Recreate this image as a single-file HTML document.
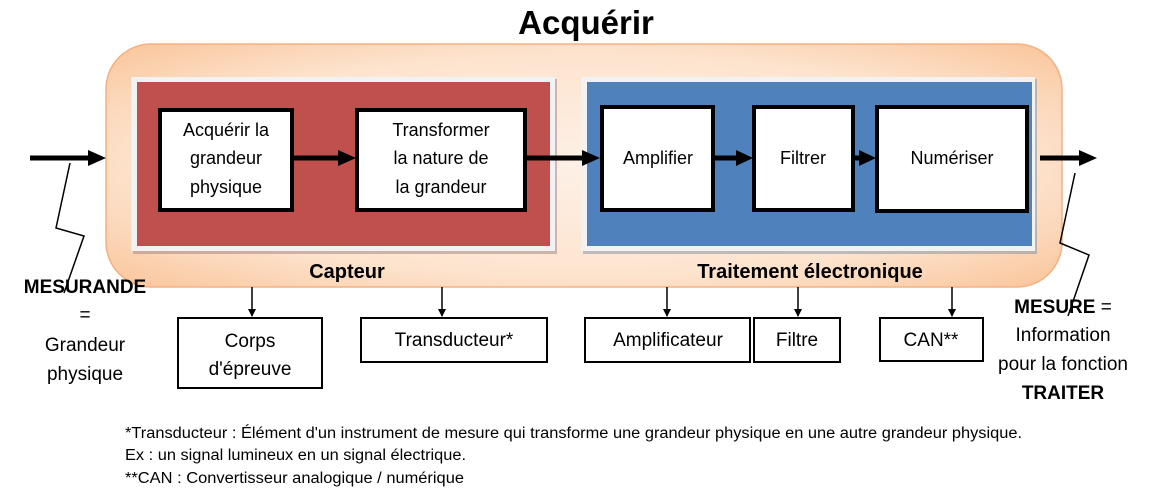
<!DOCTYPE html>
<html><head><meta charset="utf-8"><style>
html,body{margin:0;padding:0;background:#fff}
svg{display:block}
text{font-family:"Liberation Sans",sans-serif;fill:#000}
</style></head><body>
<svg width="1156" height="494" viewBox="0 0 1156 494" xmlns="http://www.w3.org/2000/svg">
<defs>
<radialGradient id="g" cx="50%" cy="50%" r="75%">
<stop offset="0" stop-color="#fdf0e6"/><stop offset="0.6" stop-color="#fde4cf"/><stop offset="1" stop-color="#f9bf90"/>
</radialGradient>
<marker id="ah" markerWidth="8" markerHeight="8" refX="7" refY="4" orient="auto" markerUnits="userSpaceOnUse"><path d="M0,0 L8,4 L0,8 z" fill="#000"/></marker>
</defs>
<text x="586" y="34" font-size="33" font-weight="bold" text-anchor="middle">Acquérir</text>
<rect x="106" y="44" width="956" height="243" rx="45" fill="url(#g)" stroke="#f4b183" stroke-width="1.5"/>
<rect x="133" y="79" width="424" height="175" fill="#a08080" opacity="0.5"/>
<rect x="131" y="77" width="424" height="174" fill="#f2f2f2"/>
<rect x="137" y="82" width="413" height="164" fill="#c0504d"/>
<rect x="583" y="79" width="454" height="175" fill="#8090a0" opacity="0.5"/>
<rect x="581" y="77" width="454" height="174" fill="#f2f2f2"/>
<rect x="587" y="82" width="445" height="164" fill="#4f81bd"/>
<g fill="#fff" stroke="#000" stroke-width="4">
<rect x="160" y="110" width="132" height="100"/>
<rect x="357" y="110" width="168" height="100"/>
<rect x="602" y="107" width="111" height="103"/>
<rect x="754" y="107" width="99" height="103"/>
<rect x="877" y="107" width="150" height="104"/>
</g>
<g font-size="18" text-anchor="middle">
<text x="226" y="136">Acquérir la</text><text x="226" y="164">grandeur</text><text x="226" y="193">physique</text>
<text x="441" y="136">Transformer</text><text x="441" y="164">la nature de</text><text x="441" y="193">la grandeur</text>
<text x="658" y="164">Amplifier</text><text x="803" y="164">Filtrer</text><text x="952" y="164">Numériser</text>
</g>
<g stroke="#000" stroke-width="5" fill="none">
<line x1="30" y1="158" x2="92" y2="158"/><path d="M88,150 L106,158 L88,166z" fill="#000" stroke="none"/>
<line x1="292" y1="158" x2="342" y2="158"/><path d="M338,150 L356,158 L338,166z" fill="#000" stroke="none"/>
<line x1="525" y1="158" x2="586" y2="158"/><path d="M582,150 L600,158 L582,166z" fill="#000" stroke="none"/>
<line x1="713" y1="158" x2="740" y2="158"/><path d="M736,150 L753,158 L736,166z" fill="#000" stroke="none"/>
<line x1="853" y1="158" x2="862" y2="158"/><path d="M859,150 L876,158 L859,166z" fill="#000" stroke="none"/>
<line x1="1040" y1="158" x2="1082" y2="158"/><path d="M1079,150 L1097,158 L1079,166z" fill="#000" stroke="none"/>
</g>
<g stroke="#000" stroke-width="1.5" fill="none">
<polyline points="70,163 56,228 84,236 64,293"/>
<polyline points="1075,173 1060,243 1089,255 1068,316"/>
</g>
<g font-size="20" font-weight="bold" text-anchor="middle">
<text x="347" y="278">Capteur</text>
<text x="810" y="278">Traitement électronique</text>
</g>
<g stroke="#000" stroke-width="1.5" marker-end="url(#ah)">
<line x1="252" y1="287" x2="252" y2="316"/>
<line x1="442" y1="287" x2="442" y2="316"/>
<line x1="667" y1="287" x2="667" y2="316"/>
<line x1="798" y1="287" x2="798" y2="316"/>
<line x1="952" y1="287" x2="952" y2="316"/>
</g>
<g fill="#fff" stroke="#000" stroke-width="2">
<rect x="178" y="318" width="144" height="70"/>
<rect x="361" y="318" width="186" height="44"/>
<rect x="585" y="318" width="165" height="44"/>
<rect x="754" y="318" width="86" height="44"/>
<rect x="880" y="318" width="103" height="43"/>
</g>
<g font-size="19" text-anchor="middle">
<text x="250" y="347">Corps</text><text x="250" y="375">d'épreuve</text>
<text x="454" y="346">Transducteur*</text>
<text x="668" y="346">Amplificateur</text>
<text x="797" y="346">Filtre</text>
<text x="931" y="346">CAN**</text>
<text x="85" y="293" font-weight="bold">MESURANDE</text>
<text x="85" y="321">=</text>
<text x="85" y="351">Grandeur</text>
<text x="85" y="380">physique</text>
<text x="1063" y="313"><tspan font-weight="bold">MESURE</tspan> =</text>
<text x="1063" y="341">Information</text>
<text x="1063" y="370">pour la fonction</text>
<text x="1063" y="399" font-weight="bold">TRAITER</text>
</g>
<g font-size="15.5">
<text x="125" y="438" textLength="897" lengthAdjust="spacingAndGlyphs">*Transducteur : Élément d'un instrument de mesure qui transforme une grandeur physique en une autre grandeur physique.</text>
<text x="125" y="460" textLength="341" lengthAdjust="spacingAndGlyphs">Ex : un signal lumineux en un signal électrique.</text>
<text x="125" y="483" textLength="339" lengthAdjust="spacingAndGlyphs">**CAN : Convertisseur analogique / numérique</text>
</g>
</svg>
</body></html>
